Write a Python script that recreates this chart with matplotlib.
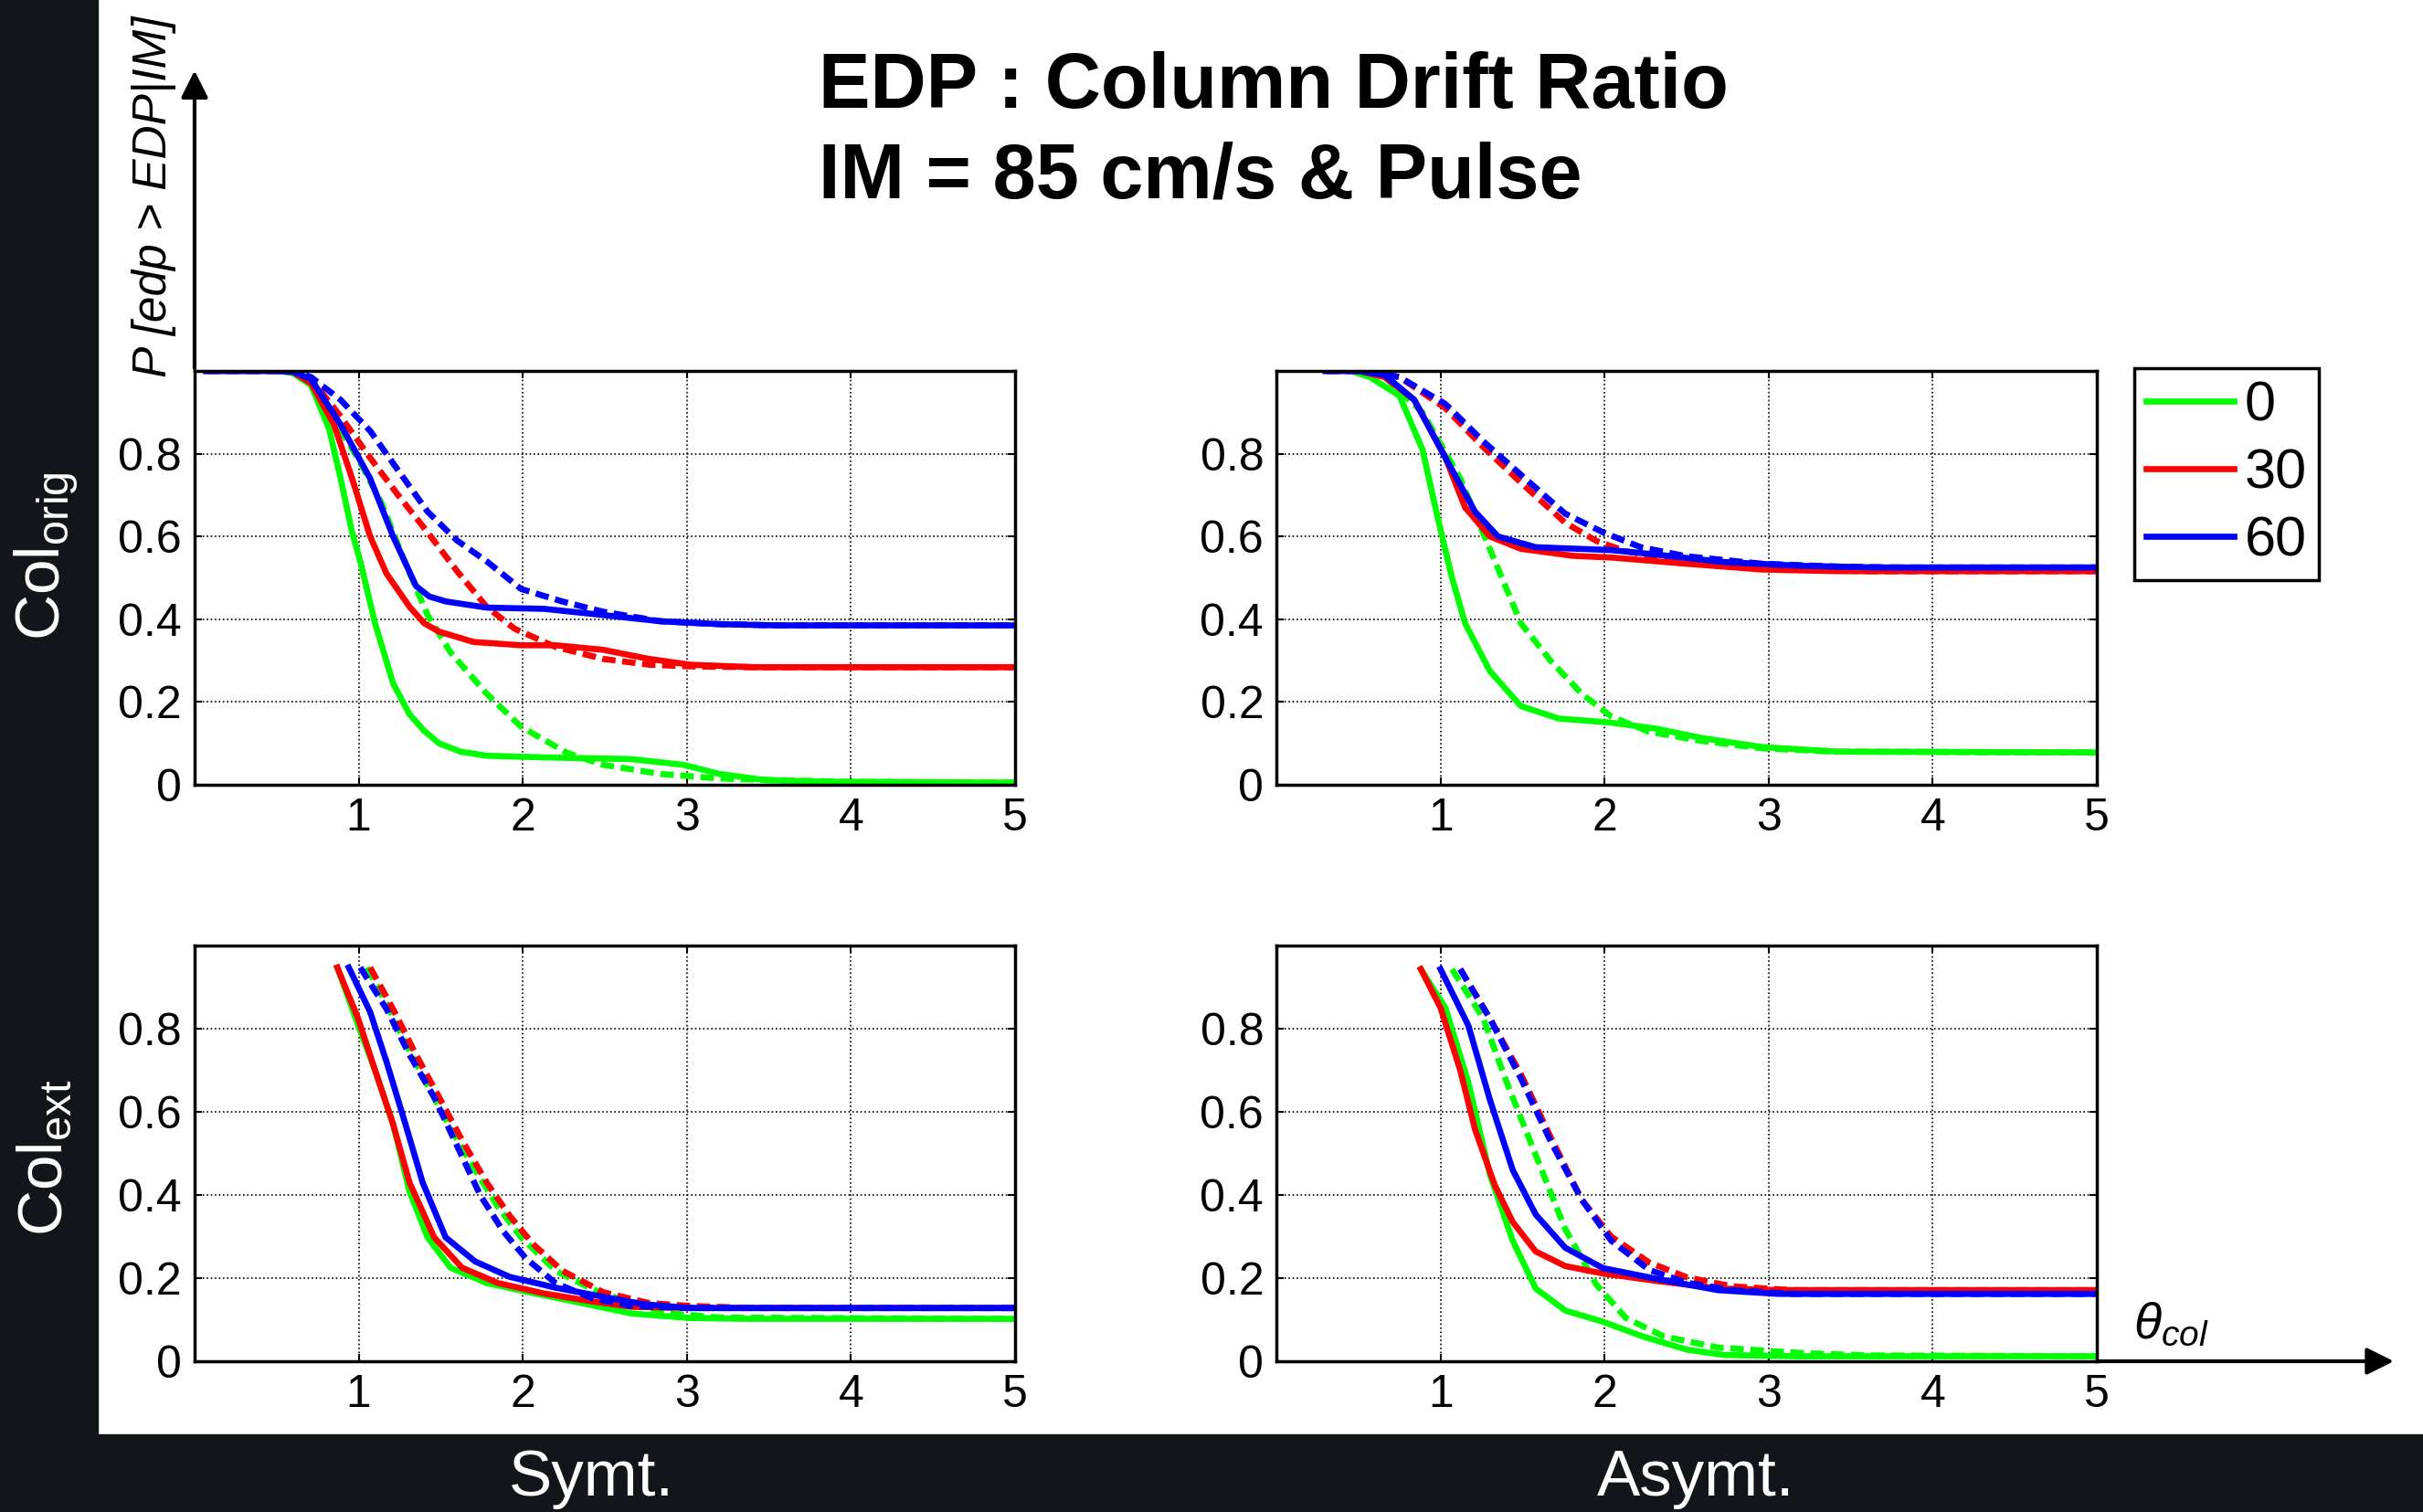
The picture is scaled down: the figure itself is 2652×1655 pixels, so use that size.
import matplotlib
matplotlib.use('Agg')
import matplotlib.pyplot as plt
from matplotlib.patches import Rectangle, FancyArrowPatch

plt.rcParams['font.family'] = ['Liberation Sans', 'DejaVu Sans']
plt.rcParams['mathtext.fontset'] = 'custom'
plt.rcParams['mathtext.rm'] = 'Liberation Sans'
plt.rcParams['mathtext.it'] = 'Liberation Sans:italic'

# legend labels (angle) and colours
angles = ['0', '30', '60']
colors = ['#00ff00', '#ff0000', '#0000ff']

# ---- Symt. / Col_orig (top left) ----
so_g_x = [0.07, 0.5, 0.6, 0.71, 0.82, 0.89, 0.96, 1.01, 1.10, 1.21, 1.31, 1.40, 1.49, 1.62, 1.78, 2.13, 2.66, 2.98, 3.2, 3.48, 3.9, 5]
so_g_y = [1, 1, 0.995, 0.965, 0.86, 0.74, 0.61, 0.54, 0.39, 0.245, 0.17, 0.13, 0.10, 0.08, 0.07, 0.066, 0.062, 0.048, 0.026, 0.011, 0.007, 0.005]
so_gd_x = [0.07, 0.5, 0.6, 0.71, 0.85, 0.995, 1.14, 1.28, 1.42, 1.56, 1.78, 1.99, 2.27, 2.49, 2.84, 3.2, 3.55, 4.0, 5]
so_gd_y = [1, 1, 0.995, 0.97, 0.88, 0.79, 0.68, 0.54, 0.41, 0.32, 0.22, 0.14, 0.077, 0.048, 0.026, 0.015, 0.011, 0.007, 0.005]
so_r_x = [0.07, 0.5, 0.6, 0.71, 0.85, 0.96, 1.07, 1.17, 1.31, 1.40, 1.49, 1.70, 1.99, 2.2, 2.49, 2.77, 3.02, 3.41, 5]
so_r_y = [1, 1, 0.997, 0.97, 0.87, 0.74, 0.60, 0.51, 0.43, 0.39, 0.37, 0.345, 0.337, 0.337, 0.326, 0.304, 0.29, 0.284, 0.284]
so_rd_x = [0.07, 0.5, 0.6, 0.71, 0.89, 1.07, 1.24, 1.42, 1.6, 1.78, 1.95, 2.2, 2.49, 2.77, 3.02, 3.4, 5]
so_rd_y = [1, 1, 0.998, 0.98, 0.89, 0.79, 0.70, 0.61, 0.516, 0.43, 0.377, 0.333, 0.304, 0.29, 0.286, 0.284, 0.284]
so_b_x = [0.07, 0.5, 0.6, 0.71, 0.89, 1.07, 1.21, 1.35, 1.43, 1.53, 1.78, 2.13, 2.49, 2.84, 3.2, 3.55, 5]
so_b_y = [1, 1, 0.998, 0.98, 0.87, 0.74, 0.60, 0.48, 0.455, 0.443, 0.428, 0.425, 0.41, 0.395, 0.388, 0.385, 0.385]
so_bd_x = [0.07, 0.5, 0.6, 0.71, 0.89, 1.07, 1.24, 1.42, 1.6, 1.78, 1.99, 2.24, 2.49, 2.84, 3.2, 3.55, 5]
so_bd_y = [1, 1, 0.999, 0.985, 0.93, 0.855, 0.76, 0.66, 0.59, 0.54, 0.473, 0.443, 0.418, 0.395, 0.388, 0.385, 0.385]

# ---- Asymt. / Col_orig (top right) ----
ao_g_x = [0.3, 0.45, 0.57, 0.75, 0.89, 0.98, 1.07, 1.15, 1.30, 1.49, 1.72, 2.04, 2.32, 2.59, 2.96, 3.42, 5]
ao_g_y = [1, 1, 0.985, 0.94, 0.81, 0.65, 0.50, 0.39, 0.275, 0.19, 0.16, 0.15, 0.135, 0.113, 0.091, 0.080, 0.078]
ao_gd_x = [0.3, 0.5, 0.66, 0.89, 1.12, 1.30, 1.49, 1.67, 1.86, 2.04, 2.27, 2.59, 2.96, 3.4, 5]
ao_gd_y = [1, 1, 0.985, 0.90, 0.74, 0.57, 0.39, 0.30, 0.22, 0.165, 0.128, 0.106, 0.088, 0.08, 0.078]
ao_r_x = [0.3, 0.5, 0.66, 0.84, 1.03, 1.15, 1.30, 1.49, 1.81, 2.04, 2.5, 2.96, 3.42, 5]
ao_r_y = [1, 1, 0.985, 0.93, 0.79, 0.67, 0.60, 0.57, 0.553, 0.549, 0.534, 0.52, 0.516, 0.516]
ao_rd_x = [0.3, 0.55, 0.75, 1.03, 1.26, 1.49, 1.76, 1.95, 2.13, 2.41, 2.73, 3.19, 3.6, 5]
ao_rd_y = [1, 1, 0.985, 0.91, 0.816, 0.73, 0.633, 0.589, 0.564, 0.545, 0.534, 0.52, 0.516, 0.516]
ao_b_x = [0.3, 0.5, 0.66, 0.84, 1.03, 1.21, 1.35, 1.58, 2.04, 2.32, 2.73, 3.19, 3.65, 5]
ao_b_y = [1, 1, 0.99, 0.93, 0.79, 0.66, 0.60, 0.574, 0.567, 0.556, 0.538, 0.529, 0.525, 0.525]
ao_bd_x = [0.3, 0.55, 0.75, 1.03, 1.26, 1.53, 1.76, 1.99, 2.22, 2.5, 2.96, 3.42, 3.8, 5]
ao_bd_y = [1, 1, 0.985, 0.92, 0.83, 0.735, 0.655, 0.61, 0.574, 0.552, 0.534, 0.527, 0.525, 0.525]

# ---- Symt. / Col_ext (bottom left) ----
se_g_x = [0.87, 0.995, 1.10, 1.21, 1.31, 1.42, 1.56, 1.78, 1.99, 2.31, 2.66, 3.02, 3.37, 5]
se_g_y = [0.947, 0.81, 0.70, 0.57, 0.408, 0.298, 0.225, 0.188, 0.17, 0.144, 0.115, 0.104, 0.102, 0.102]
se_gd_x = [1.05, 1.17, 1.28, 1.42, 1.56, 1.71, 1.85, 1.99, 2.2, 2.42, 2.66, 2.9, 3.2, 5]
se_gd_y = [0.947, 0.86, 0.77, 0.664, 0.56, 0.46, 0.371, 0.298, 0.218, 0.174, 0.14, 0.115, 0.105, 0.102]
se_r_x = [0.87, 0.995, 1.10, 1.21, 1.31, 1.46, 1.63, 1.85, 2.13, 2.42, 2.66, 3.02, 5]
se_r_y = [0.947, 0.826, 0.70, 0.57, 0.43, 0.298, 0.225, 0.188, 0.163, 0.144, 0.131, 0.128, 0.128]
se_rd_x = [1.07, 1.21, 1.35, 1.49, 1.63, 1.78, 1.92, 2.06, 2.24, 2.49, 2.77, 3.02, 3.4, 5]
se_rd_y = [0.947, 0.847, 0.737, 0.635, 0.532, 0.43, 0.35, 0.283, 0.218, 0.166, 0.14, 0.133, 0.128, 0.128]
se_b_x = [0.94, 1.07, 1.17, 1.28, 1.39, 1.53, 1.71, 1.92, 2.2, 2.49, 2.74, 3.02, 5]
se_b_y = [0.947, 0.84, 0.72, 0.577, 0.43, 0.298, 0.24, 0.203, 0.177, 0.155, 0.137, 0.128, 0.128]
se_bd_x = [1.01, 1.17, 1.31, 1.46, 1.6, 1.74, 1.88, 2.02, 2.2, 2.42, 2.66, 3.0, 5]
se_bd_y = [0.947, 0.847, 0.737, 0.635, 0.518, 0.40, 0.313, 0.247, 0.188, 0.152, 0.133, 0.128, 0.128]

# ---- Asymt. / Col_ext (bottom right) ----
ae_g_x = [0.88, 1.03, 1.17, 1.30, 1.44, 1.58, 1.76, 1.99, 2.23, 2.5, 2.73, 3.19, 5]
ae_g_y = [0.943, 0.85, 0.67, 0.45, 0.29, 0.175, 0.122, 0.095, 0.06, 0.028, 0.015, 0.012, 0.012]
ae_gd_x = [1.07, 1.26, 1.40, 1.58, 1.76, 1.95, 2.13, 2.36, 2.69, 3.19, 3.6, 5]
ae_gd_y = [0.943, 0.825, 0.674, 0.496, 0.318, 0.184, 0.104, 0.06, 0.033, 0.02, 0.014, 0.012]
ae_r_x = [0.88, 1.0, 1.12, 1.21, 1.33, 1.44, 1.58, 1.76, 1.99, 2.32, 2.69, 3.06, 5]
ae_r_y = [0.943, 0.85, 0.70, 0.558, 0.424, 0.335, 0.264, 0.229, 0.211, 0.193, 0.175, 0.171, 0.171]
ae_rd_x = [1.12, 1.30, 1.49, 1.67, 1.86, 2.04, 2.27, 2.5, 2.78, 3.15, 5]
ae_rd_y = [0.943, 0.825, 0.69, 0.54, 0.389, 0.30, 0.238, 0.202, 0.18, 0.171, 0.171]
ae_b_x = [1.0, 1.17, 1.30, 1.44, 1.58, 1.76, 1.99, 2.32, 2.69, 3.06, 5]
ae_b_y = [0.943, 0.807, 0.63, 0.46, 0.353, 0.273, 0.224, 0.198, 0.171, 0.162, 0.162]
ae_bd_x = [1.12, 1.30, 1.49, 1.67, 1.86, 2.04, 2.27, 2.5, 2.78, 3.15, 5]
ae_bd_y = [0.943, 0.825, 0.68, 0.53, 0.389, 0.29, 0.22, 0.189, 0.171, 0.162, 0.162]

x_ticks = [1, 2, 3, 4, 5]
y_ticks = [0, 0.2, 0.4, 0.6, 0.8]
y_tick_labels = ['0', '0.2', '0.4', '0.6', '0.8']

panels = [
    # (axes rect, solid curves, dashed curves)
    ([0.0803, 0.4810, 0.3386, 0.2737],
     [(so_g_x, so_g_y), (so_r_x, so_r_y), (so_b_x, so_b_y)],
     [(so_gd_x, so_gd_y), (so_rd_x, so_rd_y), (so_bd_x, so_bd_y)]),
    ([0.5268, 0.4810, 0.3386, 0.2737],
     [(ao_g_x, ao_g_y), (ao_r_x, ao_r_y), (ao_b_x, ao_b_y)],
     [(ao_gd_x, ao_gd_y), (ao_rd_x, ao_rd_y), (ao_bd_x, ao_bd_y)]),
    ([0.0803, 0.0997, 0.3386, 0.2750],
     [(se_g_x, se_g_y), (se_r_x, se_r_y), (se_b_x, se_b_y)],
     [(se_gd_x, se_gd_y), (se_rd_x, se_rd_y), (se_bd_x, se_bd_y)]),
    ([0.5268, 0.0997, 0.3386, 0.2750],
     [(ae_g_x, ae_g_y), (ae_r_x, ae_r_y), (ae_b_x, ae_b_y)],
     [(ae_gd_x, ae_gd_y), (ae_rd_x, ae_rd_y), (ae_bd_x, ae_bd_y)]),
]

fig = plt.figure(figsize=(26.52, 16.55), dpi=100)
fig.patch.set_facecolor('white')

# dark slide border (left strip + bottom strip)
bg = '#12161a'
fig.add_artist(Rectangle((0, 0), 0.0403, 1, transform=fig.transFigure, color=bg, zorder=0))
fig.add_artist(Rectangle((0, 0), 1, 0.0514, transform=fig.transFigure, color=bg, zorder=0))

axes = []
for rect, solids, dashes in panels:
    ax = fig.add_axes(rect)
    for (x, y), c in zip(solids, colors):
        ax.plot(x, y, color=c, lw=4.8, solid_joinstyle='round')
        ax.plot(*dashes[colors.index(c)], color=c, lw=4.8, dashes=(2.2, 1.1))
    ax.set_xlim(0, 5)
    ax.set_ylim(0, 1)
    ax.set_xticks(x_ticks)
    ax.set_yticks(y_ticks)
    ax.set_yticklabels(y_tick_labels)
    ax.tick_params(direction='in', length=6, width=1.5, top=True, right=True,
                   labelsize=36, pad=10)
    ax.grid(True, color='black', linestyle=':', linewidth=1.2)
    for side in ax.spines.values():
        side.set_linewidth(2.5)
    axes.append(ax)

# legend on top right panel, solid lines only
leg = axes[1].legend(axes[1].lines[0::2], angles, loc='upper left',
                     bbox_to_anchor=(0.8808, 0.7565), bbox_transform=fig.transFigure,
                     borderaxespad=0, fontsize=44, handlelength=1.56, handletextpad=0.2,
                     labelspacing=0.28, borderpad=0.22, fancybox=False,
                     edgecolor='black', framealpha=1)
leg.get_frame().set_linewidth(2.5)

# axis arrows
fig.add_artist(FancyArrowPatch((0.0803, 0.7547), (0.0803, 0.955), transform=fig.transFigure,
                               arrowstyle='-|>', mutation_scale=45, lw=3, color='black'))
fig.add_artist(FancyArrowPatch((0.8654, 0.0997), (0.9890, 0.0997), transform=fig.transFigure,
                               arrowstyle='-|>', mutation_scale=45, lw=3, color='black'))

fig.text(0.0637, 0.870, 'P [edp > EDP|IM]', rotation=90, style='italic',
         fontsize=37, ha='center', va='center')
fig.text(0.896, 0.123, r'$\theta_{col}$', fontsize=40, ha='center', va='center')

# title
fig.text(0.338, 0.9287, 'EDP : Column Drift Ratio', fontsize=61, fontweight='bold',
         ha='left', va='baseline')
fig.text(0.338, 0.8690, 'IM = 85 cm/s & Pulse', fontsize=61, fontweight='bold',
         ha='left', va='baseline')

# row / column labels on the dark border
fig.text(0.019, 0.632, r'Col$_{\mathrm{orig}}$', rotation=90, color='white',
         fontsize=50, ha='center', va='center')
fig.text(0.019, 0.234, r'Col$_{\mathrm{ext}}$', rotation=90, color='white',
         fontsize=50, ha='center', va='center')
fig.text(0.244, 0.022, 'Symt.', color='white', fontsize=51, ha='center', va='center')
fig.text(0.700, 0.022, 'Asymt.', color='white', fontsize=51, ha='center', va='center')

fig.savefig('out.png', dpi=100, facecolor=fig.get_facecolor())
